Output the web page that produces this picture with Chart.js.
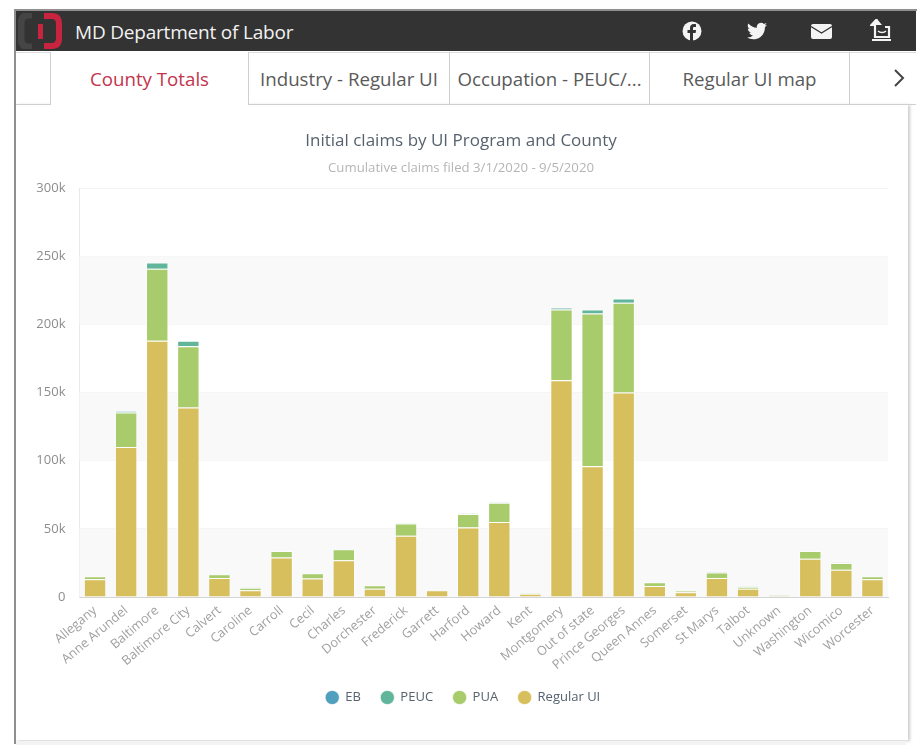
<!DOCTYPE html>
<html><head><meta charset="utf-8">
<script src="https://cdn.jsdelivr.net/npm/chart.js@4"></script>
<style>
html,body{margin:0;padding:0;background:#fff;overflow:hidden;font-family:"Open Sans",sans-serif}
#page{position:relative;width:922px;height:751px}
.abs{position:absolute}
#outerL{left:14px;top:10px;width:2px;height:734px;background:#8f8f8f}
#outerT{left:14px;top:9px;width:903px;height:2px;background:#8f8f8f}
#hdr{left:16px;top:11px;width:900px;height:40px;background:#333}
#hdrT{left:75px;top:11px;height:40px;line-height:43px;color:#f2f2f2;font-size:19px;letter-spacing:-.2px}
#tabline{left:16px;top:103.5px;width:900px;height:1px;background:#cfcfcf}
.tab{top:52px;height:52px;line-height:54px;text-align:center;font-size:18.700px;color:#5a5a5a;box-sizing:border-box;border-right:1px solid #cfcfcf;white-space:nowrap}
#card{left:16px;top:104px;width:892px;height:636px;background:#fff;box-shadow:2px 1px 3px #ccc}
#chev{left:892px;top:68px}
#bottom{left:16px;top:741px;width:890px;height:4px;background:#f3f3f3}
canvas{position:absolute;left:16px;top:105px}
</style></head>
<body><div id="page">
<div class="abs" id="card"></div>
<div class="abs" id="outerL"></div><div class="abs" id="outerT"></div>
<div class="abs" id="hdr"></div>
<svg class="abs" style="left:18px;top:13px" width="46" height="36" viewBox="0 0 46 36">
<path d="M14 2H11C6 2 3 5 3 10V26C3 31 6 34 11 34H14" fill="none" stroke="#454545" stroke-width="7"/>
<path d="M26 3H34C39 3 41 6 41 11V25C41 30 39 33 34 33H26" fill="none" stroke="#c8233f" stroke-width="6"/>
<rect x="20" y="11" width="5" height="15" fill="#c8233f"/>
</svg>
<div class="abs" id="hdrT">MD Department of Labor</div>
<svg class="abs" style="left:682px;top:21px" width="20" height="20" viewBox="0 0 20 20"><circle cx="10" cy="10" r="9.5" fill="#f4f4f4"/><path d="M11 20V12h2.6l.5-3H11V7.4c0-.9.4-1.4 1.5-1.4H14V3.3C13.5 3.2 12.6 3 11.800 3 9.500 3 8 4.400 8 6.900V9H5.500v3H8v8z" fill="#333"/></svg>
<svg class="abs" style="left:747px;top:22px" width="20" height="18" viewBox="0 0 24 20"><path d="M24 2.400a10 10 0 0 1-2.800.8 5 5 0 0 0 2.200-2.700 10 10 0 0 1-3.100 1.200A4.900 4.900 0 0 0 11.900 6.100 14 14 0 0 1 1.700 1 4.900 4.900 0 0 0 3.200 7.500a4.900 4.900 0 0 1-2.200-.6c0 2.400 1.700 4.400 3.900 4.900a5 5 0 0 1-2.200.1 4.900 4.900 0 0 0 4.600 3.400A9.900 9.900 0 0 1 0 17.800 14 14 0 0 0 7.500 20c9 0 14-7.500 14-14v-.6A10 10 0 0 0 24 2.400z" fill="#f4f4f4"/></svg>
<svg class="abs" style="left:811px;top:24px" width="21" height="15" viewBox="0 0 21 15"><rect width="21" height="15" rx="2" fill="#f4f4f4"/><path d="M0 2.500L10.500 9 21 2.500" fill="none" stroke="#333" stroke-width="1.300"/></svg>
<svg class="abs" style="left:870px;top:19px" width="22" height="23" viewBox="0 0 22 23"><path d="M7 0L1.500 6H5V18H19V8H15" fill="none" stroke="#f4f4f4" stroke-width="2.200"/><path d="M7 0L2 6H12Z" fill="#f4f4f4"/><path d="M8 12c2 2 6 2 8 0" fill="none" stroke="#f4f4f4" stroke-width="1.500"/><path d="M2 21H21" stroke="#f4f4f4" stroke-width="2"/></svg>

<div class="abs" id="tabline"></div>
<div class="abs" style="left:16px;top:52px;width:900px;height:1px;background:#ddd"></div>
<div class="abs tab" style="left:50px;width:199px;color:#c3344c;background:#fff;border-left:1px solid #cfcfcf;height:53px;border-bottom:0">County Totals</div>
<div class="abs tab" style="left:249px;width:201px">Industry - Regular UI</div>
<div class="abs tab" style="left:450px;width:200px">Occupation - PEUC/...</div>
<div class="abs tab" style="left:650px;width:200px">Regular UI map</div>
<svg class="abs" id="chev" width="14" height="20" viewBox="0 0 14 20"><path d="M3 2L11 10 3 18" fill="none" stroke="#444" stroke-width="2"/></svg>
<div class="abs" id="bottom"></div>
<canvas id="c" width="890" height="635"></canvas>
</div>
<script>
const categories=["Allegany","Anne Arundel","Baltimore","Baltimore City","Calvert","Caroline","Carroll","Cecil","Charles","Dorchester","Frederick","Garrett","Harford","Howard","Kent","Montgomery","Out of state","Prince Georges","Queen Annes","Somerset","St Marys","Talbot","Unknown","Washington","Wicomico","Worcester"];
const regularUI=[13,110,188,139,14,5,29,13.5,27,6,45,5,51,55,2.3,159,96,150,8,3.5,14,6,0.8,28,20,13];
const pua=[2.2,25.5,53,45,2.7,1.8,4.7,4,8,2.6,9,0.3,10,14.2,0.4,52,112,66,2.8,1,4,1.400,0.400,5.7,5,2.2];
const peuc=[0.2,1,4.500,4,0.3,0.2,0.3,0.2,0.3,0.2,0.4,0.1,0.3,0.4,0.1,1.5,3,3,0.2,0.1,0.4,0.1,0.1,0.3,0.2,0.2];
const eb=[null,null,null,null,null,null,null,null,null,null,null,null,null,null,null,null,null,null,null,null,null,null,null,null,null,null];
const yTicks=[0,50000,100000,150000,200000,250000,300000];
const bandPlugin={id:'bands',
 afterLayout(ch){ch.legend.left+=2;ch.legend.right+=2;},
 beforeDatasetsDraw(ch){
  const {ctx,chartArea:a,scales:{y}}=ch;ctx.save();ctx.fillStyle='#f9f9f9';
  for(let i=0;i<yTicks.length-1;i+=2){const t=y.getPixelForValue(yTicks[i+1]),b=y.getPixelForValue(yTicks[i]);ctx.fillRect(a.left,t,a.right-a.left,b-t);}
  ctx.restore();}};
const mk=(label,data,color)=>({label,data:data.map(v=>v===null?null:v*1000),backgroundColor:color,borderColor:'rgba(255,255,255,.65)',borderWidth:1,stack:'s',categoryPercentage:.72,barPercentage:1});
new Chart(document.getElementById('c'),{type:'bar',plugins:[bandPlugin],
 data:{labels:categories,datasets:[mk('Regular UI',regularUI,'#d6bf5c'),mk('PUA',pua,'#a8cb6c'),mk('PEUC',peuc,'#60b59b'),mk('EB',eb,'#4f9fbd')]},
 options:{responsive:false,animation:false,
  layout:{padding:{top:26,right:18,left:18,bottom:26}},
  plugins:{tooltip:{enabled:false},
   title:{display:true,text:'Initial claims by UI Program and County',color:'#56626e',font:{family:'"Open Sans"',size:17,weight:'normal'},padding:{top:0,bottom:9}},
   subtitle:{display:true,text:'Cumulative claims filed 3/1/2020 - 9/5/2020',color:'#b5b5b5',font:{family:'"Open Sans"',size:13.2,weight:'normal'},padding:{top:0,bottom:12}},
   legend:{position:'bottom',labels:{usePointStyle:true,boxHeight:10,pointStyle:'circle',color:'#56626e',font:{family:'"Open Sans"',size:13},padding:20,sort:(a,b)=>b.datasetIndex-a.datasetIndex}}},
  scales:{
   x:{stacked:true,grid:{display:false,drawTicks:false},border:{color:'#d4d4d4'},
      afterFit(s){s.height=74},
      ticks:{autoSkip:false,minRotation:40,maxRotation:40,padding:6,color:'#a0a0a0',font:{family:'"Open Sans"',size:12.8}}},
   y:{stacked:true,min:0,max:300000,afterFit(s){s.width=45.5},afterBuildTicks(s){s.ticks=yTicks.map(v=>({value:v}))},
      grid:{color:'#f3f3f3',drawTicks:false},border:{color:'#e8e8e8'},
      ticks:{padding:14,color:'#8d8d8d',font:{family:'"Open Sans"',size:13},callback:v=>v===0?'0':(v/1000)+'k'}}
  }}});
</script></body></html>
